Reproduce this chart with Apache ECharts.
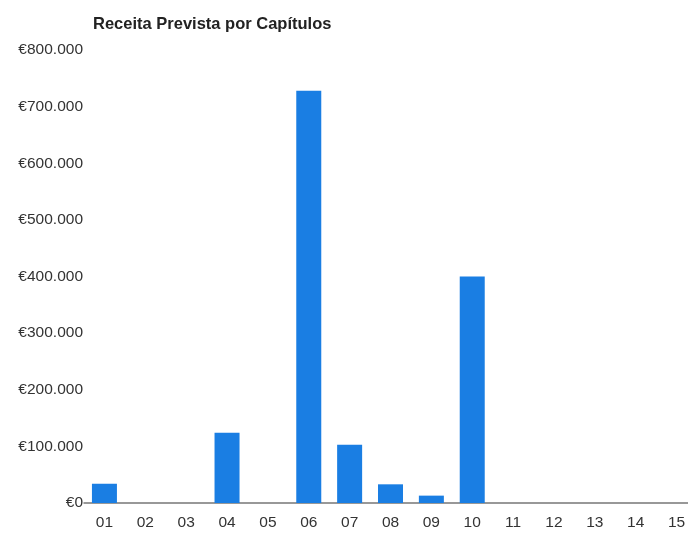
<!DOCTYPE html>
<html>
<head>
<meta charset="utf-8">
<script src="https://cdn.jsdelivr.net/npm/echarts@6/dist/echarts.min.js"></script>
<style>html,body{margin:0;padding:0;background:#fff;overflow:hidden}#c{width:700px;height:540px}</style>
</head>
<body>
<div id="c"></div>
<script>
const chartTitle = 'Receita Prevista por Capítulos';
const categories = ['01','02','03','04','05','06','07','08','09','10','11','12','13','14','15'];
const values = [34000, 0, 0, 124000, 0, 728000, 103000, 33000, 13000, 400000, 0, 0, 0, 0, 0];

function fmt(v){
  return '€' + String(Math.round(v)).replace(/\B(?=(\d{3})+(?!\d))/g, '.');
}

const chart = echarts.init(document.getElementById('c'));
chart.setOption({
  animation: false,
  backgroundColor: '#fff',
  title: {
    text: chartTitle,
    left: 88, top: 11,
    textStyle: { fontFamily: 'Liberation Sans, Arial, sans-serif', fontSize: 16.5, fontWeight: 'bold', color: '#222' }
  },
  grid: { left: 84, top: 50, right: 3, bottom: 37, containLabel: false },
  xAxis: {
    type: 'category',
    data: categories,
    axisLine: { lineStyle: { color: '#777', width: 1.5 } },
    axisTick: { show: false },
    axisLabel: { margin: 12, fontFamily: 'Liberation Sans, Arial, sans-serif', fontSize: 15.5, color: '#333' }
  },
  yAxis: {
    type: 'value',
    min: 0, max: 800000, interval: 100000,
    axisLine: { show: false },
    axisTick: { show: false },
    splitLine: { show: false },
    axisLabel: { margin: 1, formatter: fmt, fontFamily: 'Liberation Sans, Arial, sans-serif', fontSize: 15.5, color: '#333' }
  },
  series: [{
    type: 'bar',
    data: values,
    barWidth: 25,
    itemStyle: { color: '#1a7ee3' }
  }]
});
</script>
</body>
</html>
